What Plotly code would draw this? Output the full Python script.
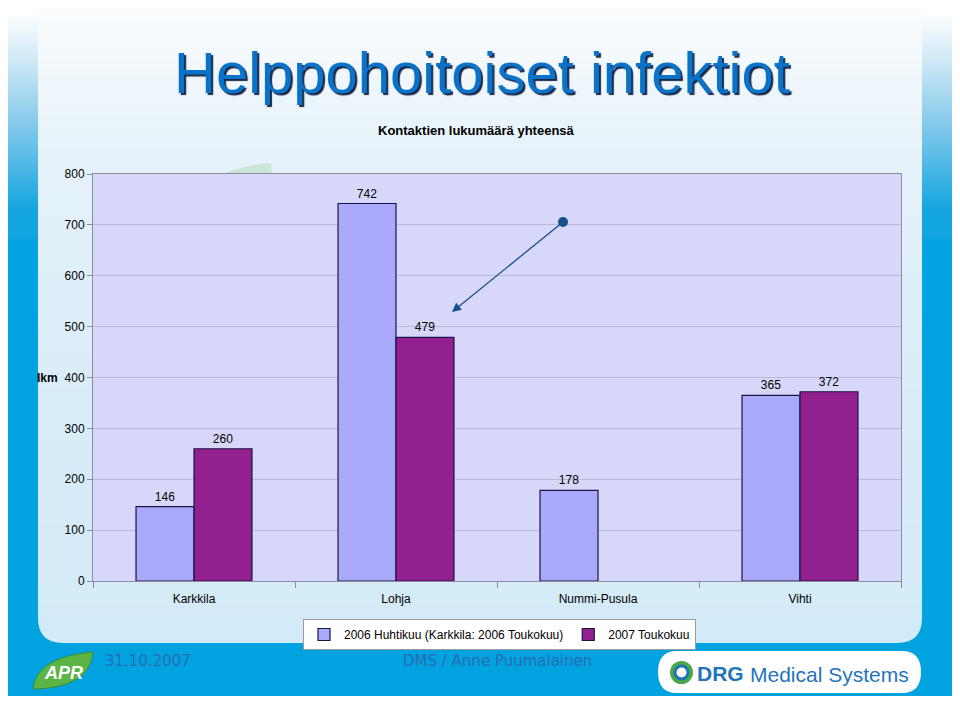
import plotly.graph_objects as go

# ---------------- data ----------------
categories = ["Karkkila", "Lohja", "Nummi-Pusula", "Vihti"]
series_2006_name = "2006 Huhtikuu (Karkkila: 2006 Toukokuu)"
series_2007_name = "2007 Toukokuu"
values_2006 = [146, 742, 178, 365]
values_2007 = [260, 479, None, 372]
y_ticks = [0, 100, 200, 300, 400, 500, 600, 700, 800]

title_text = "Helppohoitoiset infektiot"
chart_title = "Kontaktien lukumäärä yhteensä"
y_title = "lkm"
footer_date = "31.10.2007"
footer_author = "DMS / Anne Puumalainen"

# ---------------- geometry helpers (decoration only) ----------------
OFF = 8                      # page body margin in the browser
W, H = 960 - OFF, 701 - OFF  # figure size so that it fits the window
L, R, T, B = 93, 901, 174, 581   # plot area in window pixels


def px(X):
    return (X - L) / (R - L)


def py(Y):
    return (B - Y) / (B - T)


def hex2rgb(h):
    h = h.lstrip("#")
    return tuple(int(h[i:i + 2], 16) for i in (0, 2, 4))


def lerp_color(stops, y):
    for (y0, c0), (y1, c1) in zip(stops, stops[1:]):
        if y0 <= y <= y1:
            t = 0 if y1 == y0 else (y - y0) / (y1 - y0)
            a, b = hex2rgb(c0), hex2rgb(c1)
            return "rgb(%d,%d,%d)" % tuple(round(a[i] + (b[i] - a[i]) * t) for i in range(3))
    return stops[-1][1] if y > stops[-1][0] else stops[0][1]


shapes = []


def rect(x0, y0, x1, y1, color, line=None, layer="below"):
    shapes.append(dict(type="rect", xref="paper", yref="paper",
                       x0=px(x0), x1=px(x1), y0=py(y1), y1=py(y0),
                       fillcolor=color, line=line or dict(width=0), layer=layer))


def gradient(x0, y0, x1, y1, stops, n=40):
    step = (y1 - y0) / n
    for i in range(n):
        ya = y0 + i * step
        yb = ya + step + 1.0
        rect(x0, ya, x1, min(yb, y1), lerp_color(stops, ya + step / 2))


def path(pts_cmd, color, line=None, layer="below"):
    s = ""
    for cmd, pts in pts_cmd:
        s += cmd + " ".join("%.5f,%.5f" % (px(X), py(Y)) for X, Y in pts) + " "
    shapes.append(dict(type="path", xref="paper", yref="paper", path=s.strip(),
                       fillcolor=color, line=line or dict(width=0), layer=layer))


# slide background (blue bands)
band_stops = [(0, "#ffffff"), (12, "#ffffff"), (60, "#cfe9f6"), (130, "#7ec7ea"),
              (210, "#14a5e0"), (700, "#00a2e0")]
gradient(5, 5, 955, 240, band_stops, n=110)
rect(5, 239, 955, 696, "#00a2e0")

# content panel gradient with rounded bottom corners
panel_stops = [(0, "#fbfdfe"), (150, "#e6f2fa"), (400, "#d9edf8"), (645, "#d3eaf8")]
gradient(38, 0, 922, 612, panel_stops, n=90)
path([("M", [(38, 611)]), ("L", [(922, 611)]), ("L", [(922, 618)]),
      ("Q", [(922, 643), (897, 643)]), ("L", [(63, 643)]),
      ("Q", [(38, 643), (38, 618)]), ("Z", [])], "#d3eaf8")

# faint green watermark peeking above chart
path([("M", [(222, 174)]), ("Q", [(250, 164), (271, 163)]), ("L", [(272, 174)]), ("Z", [])],
     "rgba(180,220,180,0.55)")

# plot area background
rect(L, T, R, B, "#d7d7fa")

# APR logo (leaf)
path([("M", [(33, 689)]), ("Q", [(36, 657), (93, 652)]), ("Q", [(90, 688), (33, 689)]), ("Z", [])],
     "#5bb446", line=dict(color="#3f8f33", width=1), layer="above")

# DRG logo box
path([("M", [(677, 651)]), ("L", [(902, 651)]), ("Q", [(921, 651), (921, 672)]),
      ("Q", [(921, 693), (902, 693)]), ("L", [(677, 693)]), ("Q", [(658, 693), (658, 672)]),
      ("Q", [(658, 651), (677, 651)]), ("Z", [])], "#ffffff", layer="above")
shapes.append(dict(type="circle", xref="paper", yref="paper",
                   x0=px(670), x1=px(693), y0=py(684), y1=py(661),
                   fillcolor="#4aa845", line=dict(width=0), layer="above"))
shapes.append(dict(type="circle", xref="paper", yref="paper",
                   x0=px(675), x1=px(688), y0=py(679), y1=py(666),
                   fillcolor="#ffffff", line=dict(color="#1f74bb", width=3), layer="above"))

# arrow tail dot
shapes.append(dict(type="circle", xref="paper", yref="paper",
                   x0=px(558), x1=px(568), y0=py(227), y1=py(217),
                   fillcolor="#17508a", line=dict(width=0), layer="above"))

# ---------------- figure ----------------
fig = go.Figure()
fig.add_trace(go.Bar(
    name=series_2006_name, x=categories, y=values_2006,
    marker=dict(color="#aaaafc", line=dict(color="#1c1446", width=1.2)),
    text=values_2006, textposition="outside",
    textfont=dict(family="Liberation Sans, Arial", size=12, color="#000000"),
    cliponaxis=False,
))
fig.add_trace(go.Bar(
    name=series_2007_name, x=categories, y=values_2007,
    marker=dict(color="#92208f", line=dict(color="#1c1446", width=1.2)),
    text=[v if v is not None else "" for v in values_2007], textposition="outside",
    textfont=dict(family="Liberation Sans, Arial", size=12, color="#000000"),
    cliponaxis=False,
))

annotations = [
    # main title with drop shadow
    dict(text=title_text, xref="paper", yref="paper", x=px(482), y=py(73),
         showarrow=False, xanchor="center", yanchor="middle",
         font=dict(family="Liberation Sans, Arial", size=58, color="#0a73c9",
                   shadow="2px 2px 1px #1a2848")),
    dict(text="<b>" + chart_title + "</b>", xref="paper", yref="paper", x=px(476), y=py(130),
         showarrow=False, xanchor="center", yanchor="middle",
         font=dict(family="Liberation Sans, Arial", size=13, color="#000000")),
    dict(text="<b>" + y_title + "</b>", xref="paper", yref="paper", x=px(60), y=py(378),
         showarrow=False, xanchor="right", yanchor="middle",
         font=dict(family="Liberation Sans, Arial", size=12, color="#000000")),
    # arrow
    dict(text="", xref="paper", yref="paper", x=px(452), y=py(312),
         ax=563 - 452, ay=222 - 312, showarrow=True, arrowhead=2, arrowsize=1.4,
         arrowwidth=1.3, arrowcolor="#17508a", standoff=0),
    # footer
    dict(text=footer_date, xref="paper", yref="paper", x=px(148), y=py(661),
         showarrow=False, xanchor="center", yanchor="middle",
         font=dict(family="DejaVu Sans, Verdana", size=15, color="#2b6db3")),
    dict(text=footer_author, xref="paper", yref="paper", x=px(497), y=py(661),
         showarrow=False, xanchor="center", yanchor="middle",
         font=dict(family="DejaVu Sans, Verdana", size=15, color="#2b6db3")),
    dict(text="<b><i>APR</i></b>", xref="paper", yref="paper", x=px(63), y=py(673),
         showarrow=False, xanchor="center", yanchor="middle",
         font=dict(family="Liberation Sans, Arial", size=18, color="#ffffff")),
    dict(text="<b>DRG</b>", xref="paper", yref="paper", x=px(695), y=py(673),
         showarrow=False, xanchor="left", yanchor="middle",
         font=dict(family="Liberation Sans, Arial", size=21, color="#1f74bb")),
    dict(text="Medical Systems", xref="paper", yref="paper", x=px(748), y=py(674),
         showarrow=False, xanchor="left", yanchor="middle",
         font=dict(family="Liberation Sans Narrow, Liberation Sans, Arial", size=21, color="#1f74bb")),
]

fig.update_layout(
    width=W, height=H,
    margin=dict(l=L - OFF, r=W - (R - OFF), t=T - OFF, b=H - (B - OFF), pad=0),
    paper_bgcolor="#ffffff",
    plot_bgcolor="rgba(0,0,0,0)",
    barmode="group", bargap=0.426, bargroupgap=0,
    font=dict(family="Liberation Sans, Arial", size=12, color="#000000"),
    showlegend=True,
    legend=dict(orientation="h", x=px(499.5), y=py(619), xanchor="center", yanchor="top",
                bgcolor="#ffffff", bordercolor="#9a9a9a", borderwidth=1,
                font=dict(family="Liberation Sans, Arial", size=12, color="#000000"),
                itemwidth=30, tracegroupgap=0),
    shapes=shapes,
    annotations=annotations,
)
fig.update_xaxes(
    type="category", showgrid=False, showline=True, linecolor="#8c8ca0", linewidth=1,
    mirror=True, ticks="outside", tickson="boundaries", ticklen=6, tickcolor="#8c8ca0",
    ticklabelstandoff=7,
    tickfont=dict(size=12, color="#000000"),
)
fig.update_yaxes(
    range=[0, 800], tickvals=y_ticks, showgrid=True, gridcolor="#b9b9d9", gridwidth=1,
    showline=True, linecolor="#8c8ca0", linewidth=1, mirror=True,
    ticks="outside", ticklen=5, tickcolor="#8c8ca0", zeroline=False,
    tickfont=dict(size=12, color="#000000"),
)

fig.write_html("out.html")
